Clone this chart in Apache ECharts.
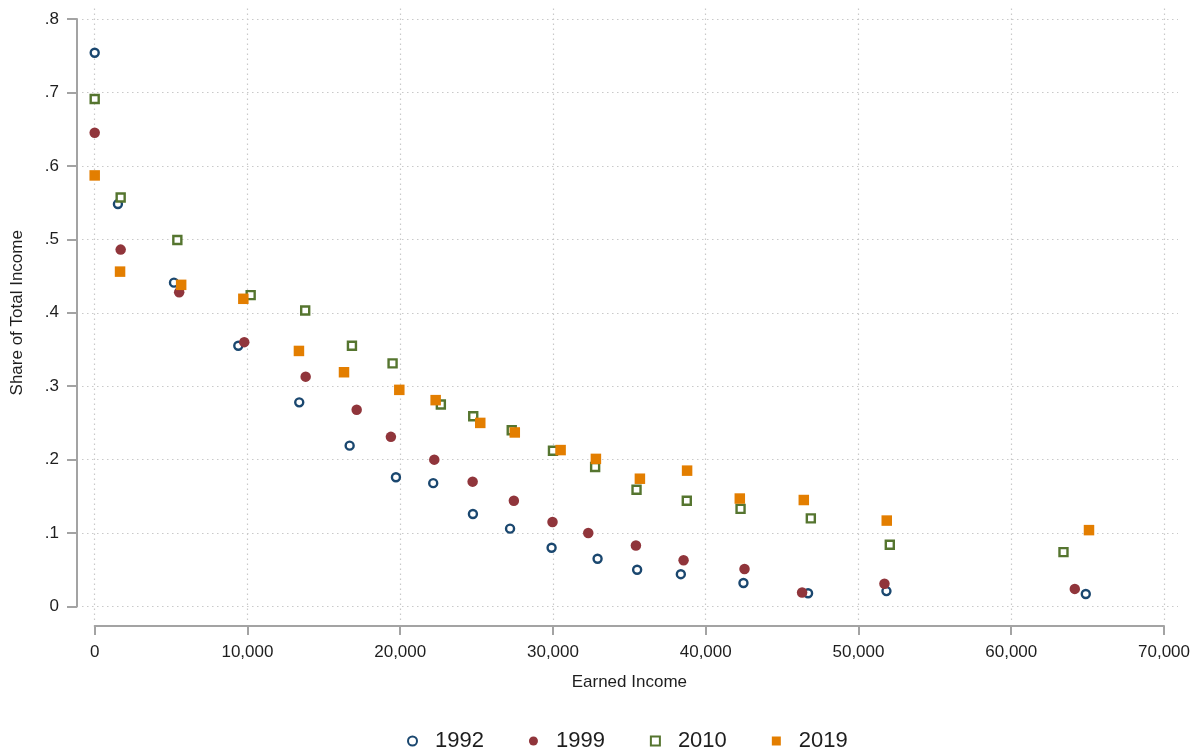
<!DOCTYPE html>
<html>
<head>
<meta charset="utf-8">
<script src="https://cdn.jsdelivr.net/npm/echarts@6/dist/echarts.min.js"></script>
<style>
  html, body { margin: 0; padding: 0; background: #fff; }
  #chart { width: 1201px; height: 752px; }
</style>
</head>
<body>
<div id="chart"></div>
<script>
// ticks
var xTicks = [0, 10000, 20000, 30000, 40000, 50000, 60000, 70000];
var yTicks = [0, 0.1, 0.2, 0.3, 0.4, 0.5, 0.6, 0.7, 0.8];
var yTickLabels = ['0', '.1', '.2', '.3', '.4', '.5', '.6', '.7', '.8'];

// share of total income by earned income bin
var pts1992 = [
    [0, 0.754], [1520, 0.548], [5190, 0.441], [9400, 0.355], [13390, 0.278],
    [16690, 0.219], [19720, 0.176], [22160, 0.168], [24760, 0.126], [27190, 0.106],
    [29910, 0.080], [32920, 0.065], [35510, 0.050], [38370, 0.044], [42470, 0.032],
    [46700, 0.018], [51830, 0.021], [64880, 0.017]
];
var pts1999 = [
    [0, 0.645], [1700, 0.486], [5530, 0.428], [9790, 0.360], [13810, 0.313],
    [17150, 0.268], [19390, 0.231], [22230, 0.200], [24740, 0.170], [27440, 0.144],
    [29970, 0.115], [32310, 0.100], [35430, 0.083], [38550, 0.063], [42540, 0.051],
    [46310, 0.019], [51700, 0.031], [64160, 0.024]
];
var pts2010 = [
    [0, 0.691], [1700, 0.557], [5410, 0.499], [10210, 0.424], [13780, 0.403],
    [16840, 0.355], [19500, 0.331], [22660, 0.275], [24780, 0.259], [27300, 0.240],
    [30000, 0.212], [32760, 0.190], [35470, 0.159], [38760, 0.144], [42280, 0.133],
    [46880, 0.120], [52050, 0.084], [63420, 0.074]
];
var pts2019 = [
    [0, 0.587], [1660, 0.456], [5660, 0.438], [9730, 0.419], [13370, 0.348],
    [16320, 0.319], [19940, 0.295], [22320, 0.281], [25240, 0.250], [27500, 0.237],
    [30500, 0.213], [32810, 0.201], [35690, 0.174], [38780, 0.185], [42230, 0.147],
    [46420, 0.145], [51850, 0.117], [65090, 0.104]
];

var font = "'Liberation Sans', Arial, sans-serif";
var navy = '#1a476f', maroon = '#90353b', green = '#55752f', orange = '#e37e00';

// axis rectangle (tick range) and the slightly larger plot region
var pl = 94.7, pr = 1164, pt = 19, pb = 606.5;
var padL = 12.7, padR = 14, padT = 14, padB = 13.5;
var xPerPx = 70000 / (pr - pl);
var yPerPx = 0.8 / (pb - pt);

var chart = echarts.init(document.getElementById('chart'), null, { renderer: 'canvas' });

var axisColor = '#a3a3a3';
var labelStyle = { color: '#1e1e1e', fontSize: 17, fontFamily: font };

var option = {
    backgroundColor: '#fff',
    animation: false,
    grid: [
        {
            left: pl - padL, right: 1201 - pr - padR,
            top: pt - padT, bottom: 752 - pb - padB
        },
        {
            left: pl, right: 1201 - pr,
            top: pt, bottom: 752 - pb
        }
    ],
    xAxis: [
        {
            gridIndex: 0, type: 'value',
            min: -padL * xPerPx, max: 70000 + padR * xPerPx,
            show: false
        },
        {
            gridIndex: 1, type: 'value',
            min: 0, max: 70000, interval: 10000,
            offset: 19.5,
            axisLine: { show: true, onZero: false, lineStyle: { color: axisColor, width: 2 } },
            axisTick: { show: true, length: 9, lineStyle: { color: axisColor, width: 2 } },
            axisLabel: {
                margin: 18,
                color: labelStyle.color, fontSize: 17, fontFamily: font,
                formatter: function(v) { return v.toLocaleString('en-US'); }
            },
            splitLine: { show: false },
            name: 'Earned Income',
            nameLocation: 'middle',
            nameGap: 48,
            nameTextStyle: labelStyle
        }
    ],
    yAxis: [
        {
            gridIndex: 0, type: 'value',
            min: -padB * yPerPx, max: 0.8 + padT * yPerPx,
            show: false
        },
        {
            gridIndex: 1, type: 'value',
            min: 0, max: 0.8, interval: 0.1,
            offset: 17.7,
            axisLine: { show: true, onZero: false, lineStyle: { color: axisColor, width: 2 } },
            axisTick: { show: true, length: 10, lineStyle: { color: axisColor, width: 2 } },
            axisLabel: {
                margin: 18,
                color: labelStyle.color, fontSize: 17, fontFamily: font,
                formatter: function(v, i) { return yTickLabels[i]; }
            },
            splitLine: { show: false },
            name: 'Share of Total Income',
            nameLocation: 'middle',
            nameGap: 51,
            nameTextStyle: labelStyle
        }
    ],
    legend: {
        data: ['1992', '1999', '2010', '2019'],
        left: 402,
        top: 725,
        itemWidth: 9,
        itemHeight: 9,
        itemGap: 45,
        textStyle: { color: '#1e1e1e', fontSize: 22, fontFamily: font, padding: [0, 0, 0, 13] }
    },
    series: [
        {
            // dotted grid lines across the whole plot region
            type: 'line',
            xAxisIndex: 0, yAxisIndex: 0,
            data: [],
            z: 0,
            silent: true,
            markLine: {
                silent: true,
                z: 0,
                symbol: 'none',
                label: { show: false },
                lineStyle: { color: '#c9c9c9', width: 1.2, type: [1.5, 3.5] },
                data: xTicks.map(function(v) { return { xAxis: v }; })
                    .concat(yTicks.map(function(v) { return { yAxis: v }; }))
            }
        },
        {
            name: '1992', type: 'scatter', xAxisIndex: 1, yAxisIndex: 1,
            symbol: 'circle', symbolSize: 8, clip: false, z: 5,
            itemStyle: { color: '#fff', borderColor: navy, borderWidth: 2.4, opacity: 1 },
            data: pts1992
        },
        {
            name: '1999', type: 'scatter', xAxisIndex: 1, yAxisIndex: 1,
            symbol: 'circle', symbolSize: 10.5, clip: false, z: 5,
            itemStyle: { color: maroon, opacity: 1 },
            data: pts1999
        },
        {
            name: '2010', type: 'scatter', xAxisIndex: 1, yAxisIndex: 1,
            symbol: 'rect', symbolSize: 8, clip: false, z: 5,
            itemStyle: { color: '#fff', borderColor: green, borderWidth: 2.4, opacity: 1 },
            data: pts2010
        },
        {
            name: '2019', type: 'scatter', xAxisIndex: 1, yAxisIndex: 1,
            symbol: 'rect', symbolSize: 10.5, clip: false, z: 5,
            itemStyle: { color: orange, opacity: 1 },
            data: pts2019
        }
    ]
};

chart.setOption(option);
</script>
</body>
</html>
